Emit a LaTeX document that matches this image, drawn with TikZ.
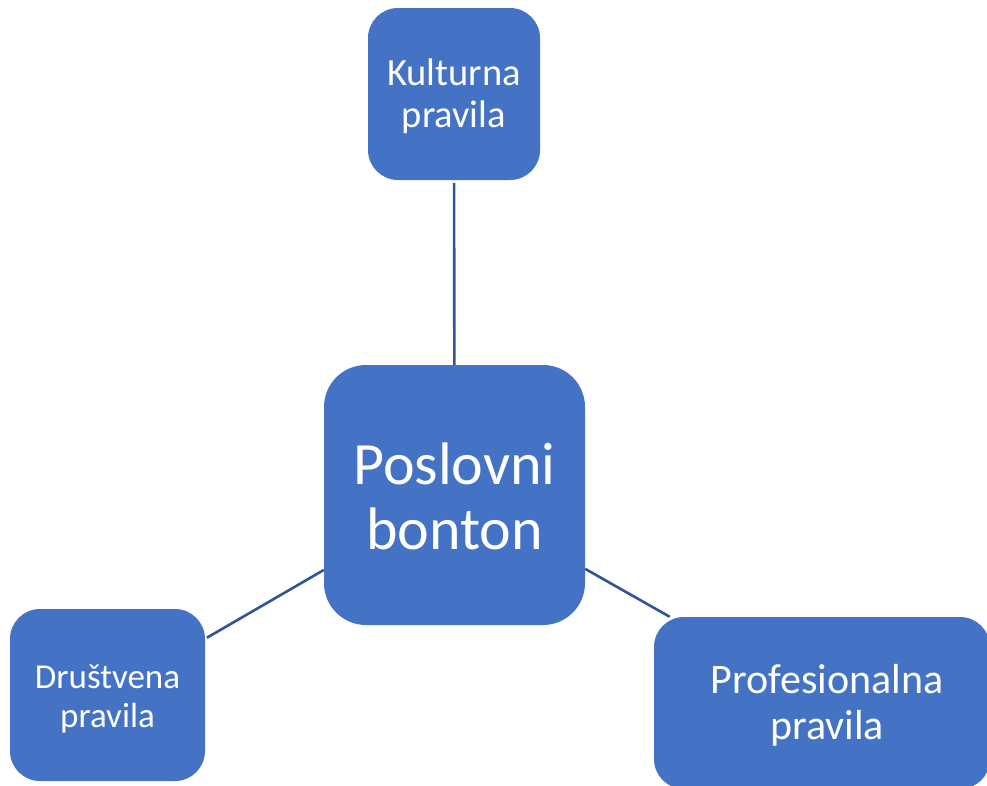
\documentclass[tikz,border=0pt]{standalone}
\usepackage{fontspec}
\setmainfont{Carlito}
\definecolor{boxblue}{HTML}{4472C4}
\definecolor{lineblue}{HTML}{2F5597}
\begin{document}
\begin{tikzpicture}[x=1pt,y=-1pt,
  box/.style={fill=boxblue, inner sep=0pt, rectangle},
  small/.style={rounded corners=30pt},
  txt/.style={text=white, align=center, inner sep=0pt},
  conn/.style={draw=lineblue, line width=2.6pt}]
\useasboundingbox (0,0) rectangle (987,785);
\clip (0,0) rectangle (987,785);
\node[box, small, minimum width=172pt, minimum height=172pt] (k) at (454,94) {};
\node[box, rounded corners=42pt, minimum width=261pt, minimum height=260pt] (c) at (454.5,495) {};
\node[box, small, minimum width=195pt, minimum height=172pt] (d) at (107.5,695) {};
\node[box, small, minimum width=336pt, minimum height=172pt] (p) at (822,703) {};
\node[txt, font=\fontsize{38.5}{42}\selectfont] (kt) at ([yshift=-2pt]k.center) {Kulturna\\pravila};
\node[txt, font=\fontsize{60}{65}\selectfont] (ct) at ([yshift=-1pt]c.center) {Poslovni\\bonton};
\node[txt, font=\fontsize{35}{39}\selectfont] (dt) at ([yshift=-4pt]d.center) {Društvena\\pravila};
\node[txt, font=\fontsize{42}{46}\selectfont] (pt) at ([xshift=5pt,yshift=-2.5pt]p.center) {Profesionalna\\pravila};
\draw[conn, shorten <=3pt] (k) -- (c);
\draw[conn, shorten <=2pt] (d) -- (c);
\draw[conn] (c) -- (p);
\end{tikzpicture}
\end{document}
